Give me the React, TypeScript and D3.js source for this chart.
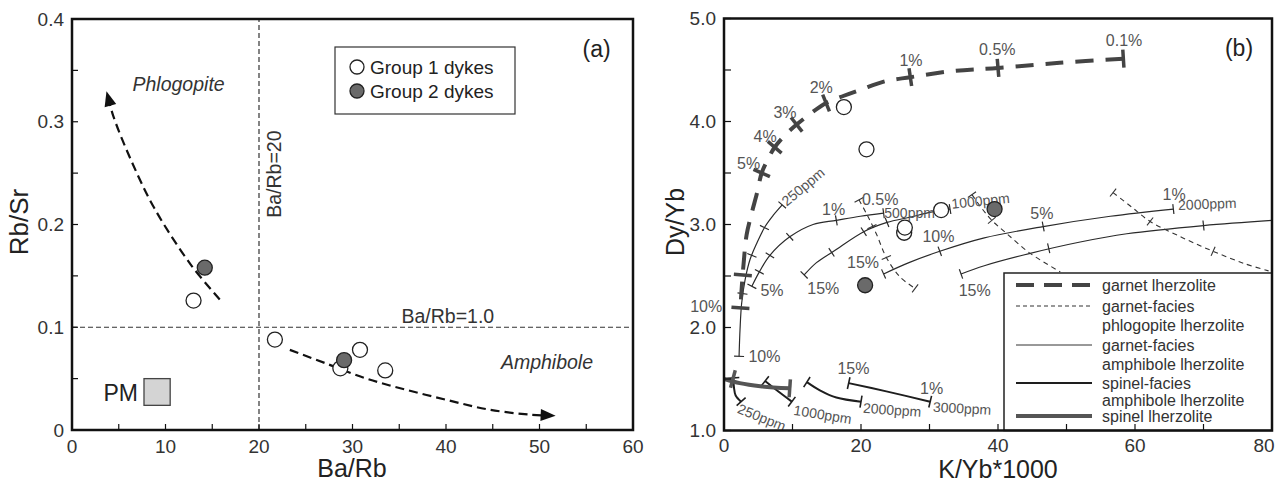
import React, { useEffect, useRef } from "react";
import * as d3 from "d3";

type P = [number, number];

// ---------- panel (a): Ba/Rb vs Rb/Sr ----------
const group1A: P[] = [[13.0, 0.126], [21.7, 0.088], [28.7, 0.06], [30.8, 0.078], [33.5, 0.058]];
const group2A: P[] = [[14.2, 0.158], [29.1, 0.068]];
const phlogArrow: P[] = [[15.8, 0.127], [12.7, 0.161], [8.8, 0.216], [6.2, 0.265], [4.4, 0.306], [3.8, 0.326]];
const amphArrow: P[] = [[23.3, 0.078], [27.1, 0.065], [31.5, 0.05], [35.8, 0.039], [40.2, 0.029], [44.5, 0.02], [48.9, 0.015], [51.3, 0.014]];
const pmBox: P[] = [[7.7, 0.024], [10.5, 0.05]];
const xTicksA = [0, 10, 20, 30, 40, 50, 60];
const yTicksA = [0, 0.1, 0.2, 0.3, 0.4];

// ---------- panel (b): K/Yb*1000 vs Dy/Yb ----------
const group1B: P[] = [[17.5, 4.14], [20.8, 3.73], [26.3, 2.92], [26.4, 2.97], [31.7, 3.14]];
const group2B: P[] = [[39.5, 3.15], [20.6, 2.41]];
const xTicksB = [0, 20, 40, 60, 80];
const yTicksB = [1, 2, 3, 4, 5];

// garnet lherzolite
const garnetLherz: P[] = [[58.3, 4.61], [49, 4.57], [40, 4.52], [33.4, 4.49], [27.2, 4.43], [23.5, 4.39], [20, 4.31], [17.5, 4.25], [14.9, 4.18], [12.5, 4.07], [10.6, 3.97], [8.8, 3.86], [7.4, 3.75], [6.3, 3.62], [5.5, 3.5], [4.8, 3.3], [4.0, 3.1], [3.3, 2.9], [2.9, 2.65], [2.6, 2.4], [2.4, 2.19]];
const garnetLherzTicks: P[] = [[58.3, 4.61], [40, 4.52], [27.2, 4.43], [14.9, 4.18], [10.6, 3.97], [7.4, 3.75], [5.5, 3.5], [2.75, 2.51], [2.4, 2.19]];

// garnet-facies amphibole lherzolite
const amph250: P[] = [[2.2, 1.72], [2.34, 1.98], [2.57, 2.23], [3.07, 2.46], [3.8, 2.66], [4.8, 2.82], [6.0, 2.98], [7.2, 3.09], [8.5, 3.19]];
const amph250Ticks: P[] = [[2.2, 1.72], [2.7, 2.33], [4.07, 2.7], [5.9, 2.97], [8.5, 3.19]];
const amph500: P[] = [[4.07, 2.4], [5.16, 2.54], [6.7, 2.7], [9.6, 2.88], [13.0, 3.0], [16.4, 3.04], [19.9, 3.08], [23.3, 3.11]];
const amph500Ticks: P[] = [[4.07, 2.4], [5.16, 2.54], [6.7, 2.7], [9.6, 2.88], [16.4, 3.04], [23.3, 3.11]];
const amph1000: P[] = [[11.7, 2.51], [13.5, 2.63], [16.0, 2.74], [20.4, 2.93], [23.8, 3.02], [27.1, 3.07], [30.2, 3.12], [33.0, 3.15]];
const amph1000Ticks: P[] = [[11.7, 2.51], [15.7, 2.73], [20.4, 2.93], [23.8, 3.02], [33.0, 3.15]];
const amph2000: P[] = [[23.3, 2.52], [27, 2.63], [31.5, 2.74], [38, 2.87], [46.6, 2.98], [56.4, 3.08], [65.6, 3.15]];
const amph2000Ticks: P[] = [[23.3, 2.52], [31.5, 2.74], [46.6, 2.98], [65.6, 3.15]];
const amph5000: P[] = [[34.6, 2.52], [38, 2.6], [44.7, 2.72], [52, 2.83], [58.8, 2.91], [70, 2.99], [80, 3.04]];
const amph5000Ticks: P[] = [[34.6, 2.52], [47.4, 2.77], [70, 2.99]];

// garnet-facies phlogopite lherzolite
const phlog1: P[] = [[19.7, 3.24], [21, 3.08], [22.3, 2.9], [23.7, 2.68], [25.7, 2.49], [27.9, 2.38]];
const phlog1Ticks: P[] = [[19.7, 3.24], [21.6, 2.98], [23.7, 2.68], [27.9, 2.38]];
const phlog2: P[] = [[36.2, 3.29], [37.6, 3.16], [39.1, 3.04], [41.3, 2.91], [44.7, 2.72], [49.1, 2.54]];
const phlog2Ticks: P[] = [[36.2, 3.29], [39.1, 3.04]];
const phlog3: P[] = [[56.8, 3.31], [59.5, 3.17], [62.2, 3.03], [67, 2.87], [71.4, 2.74], [76, 2.62], [79.5, 2.55]];
const phlog3Ticks: P[] = [[56.8, 3.31], [62.2, 3.03], [71.4, 2.74]];

// spinel-facies amphibole lherzolite
const spAmph250: P[] = [[1.36, 1.51], [1.45, 1.42], [1.7, 1.34], [2.5, 1.28]];
const spAmph1000: P[] = [[6.0, 1.48], [7.7, 1.39], [9.9, 1.28]];
const spAmph2000: P[] = [[12.1, 1.47], [14, 1.39], [16.4, 1.32], [20.0, 1.28]];
const spAmph3000: P[] = [[18.2, 1.46], [23.7, 1.38], [30.1, 1.28]];

// spinel lherzolite
const spinelLherz: P[] = [[0.1, 1.5], [2.3, 1.46], [5.3, 1.43], [9.6, 1.41]];
const spinelLherzTicks: P[] = [[1.3, 1.5], [9.6, 1.41]];

// labels: [x, y, text, rotation]
const pctLabels: [number, number, string, number][] = [
  [58.4, 4.79, "0.1%", 0], [39.9, 4.7, "0.5%", 0], [27.3, 4.59, "1%", 0], [14.2, 4.33, "2%", 0],
  [8.9, 4.09, "3%", 0], [6.0, 3.85, "4%", 0], [3.6, 3.59, "5%", 0], [-2.6, 2.2, "10%", 0],
  [16.0, 3.15, "1%", 0], [22.8, 3.24, "0.5%", 0], [7.0, 2.36, "5%", 0], [5.9, 1.72, "10%", 0],
  [14.5, 2.38, "15%", 0], [20.3, 2.63, "15%", 0], [31.3, 2.88, "10%", 0], [46.4, 3.11, "5%", 0],
  [65.7, 3.29, "1%", 0], [36.6, 2.36, "15%", 0], [18.9, 1.6, "15%", 0], [30.3, 1.41, "1%", 0],
];
const ppmLabels: [number, number, string, number][] = [
  [8.7, 3.21, "250ppm", -40], [23.4, 3.11, "500ppm", 0], [33.2, 3.2, "1000ppm", -6], [66.3, 3.19, "2000ppm", -2],
  [2.1, 1.22, "250ppm", 22], [10.2, 1.2, "1000ppm", 9], [20.3, 1.22, "2000ppm", 4], [30.5, 1.23, "3000ppm", 3],
];

const FONT = "'Liberation Sans', Arial, Helvetica, sans-serif";

function tickSeg(pts: P[], p: P, a: number, b: number): [P, P] {
  let best = Infinity, tx = 1, ty = 0;
  for (let i = 0; i < pts.length - 1; i++) {
    const [x0, y0] = pts[i], [x1, y1] = pts[i + 1];
    const dx = x1 - x0, dy = y1 - y0;
    const l2 = dx * dx + dy * dy || 1;
    let t = ((p[0] - x0) * dx + (p[1] - y0) * dy) / l2;
    t = Math.max(0, Math.min(1, t));
    const d = Math.hypot(p[0] - (x0 + t * dx), p[1] - (y0 + t * dy));
    if (d < best) { best = d; const l = Math.sqrt(l2); tx = dx / l; ty = dy / l; }
  }
  const nx = -ty, ny = tx;
  return [[p[0] - nx * a, p[1] - ny * a], [p[0] + nx * b, p[1] + ny * b]];
}

const App: React.FC = () => {
  const svgRef = useRef<SVGSVGElement | null>(null);

  useEffect(() => {
    const svg = d3.select(svgRef.current);
    svg.selectAll("*").remove();
    svg.style("font-family", FONT);

    // ================= panel (a) =================
    const xa = d3.scaleLinear().domain([0, 60]).range([72, 633]);
    const ya = d3.scaleLinear().domain([0, 0.4]).range([430, 19]);
    const ga = svg.append("g");

    // reference lines
    ga.append("line").attr("x1", xa(20)).attr("x2", xa(20)).attr("y1", ya(0)).attr("y2", ya(0.4))
      .attr("stroke", "#333").attr("stroke-width", 1.2).attr("stroke-dasharray", "5,3");
    ga.append("line").attr("x1", xa(0)).attr("x2", xa(60)).attr("y1", ya(0.1)).attr("y2", ya(0.1))
      .attr("stroke", "#333").attr("stroke-width", 1.2).attr("stroke-dasharray", "5,3");

    // arrows
    const lineA = d3.line<P>().x(d => xa(d[0])).y(d => ya(d[1])).curve(d3.curveCatmullRom);
    [phlogArrow, amphArrow].forEach(arr => {
      ga.append("path").attr("d", lineA(arr)!)
        .attr("fill", "none").attr("stroke", "#111").attr("stroke-width", 2.2).attr("stroke-dasharray", "9,5");
      const tip = arr[arr.length - 1], prev = arr[arr.length - 2];
      const ang = Math.atan2(ya(tip[1]) - ya(prev[1]), xa(tip[0]) - xa(prev[0])) * 180 / Math.PI;
      ga.append("path").attr("d", "M4,0 L-11,-6 L-11,6 Z").attr("fill", "#111")
        .attr("transform", `translate(${xa(tip[0])},${ya(tip[1])}) rotate(${ang})`);
    });

    // PM box
    ga.append("rect").attr("x", xa(pmBox[0][0])).attr("y", ya(pmBox[1][1]))
      .attr("width", xa(pmBox[1][0]) - xa(pmBox[0][0])).attr("height", ya(pmBox[0][1]) - ya(pmBox[1][1]))
      .attr("fill", "#d4d4d4").attr("stroke", "#444").attr("stroke-width", 1.3);
    ga.append("text").attr("x", xa(pmBox[0][0]) - 6).attr("y", ya(0.036)).attr("dominant-baseline", "central")
      .attr("text-anchor", "end").attr("font-size", 23).attr("fill", "#222").text("PM");

    // points
    ga.selectAll(".g1").data(group1A).enter().append("circle")
      .attr("cx", d => xa(d[0])).attr("cy", d => ya(d[1])).attr("r", 7.5)
      .attr("fill", "#fff").attr("stroke", "#222").attr("stroke-width", 1.3);
    ga.selectAll(".g2").data(group2A).enter().append("circle")
      .attr("cx", d => xa(d[0])).attr("cy", d => ya(d[1])).attr("r", 7.5)
      .attr("fill", "#6a6a6a").attr("stroke", "#222").attr("stroke-width", 1.3);

    // annotations
    ga.append("text").attr("x", xa(11.4)).attr("y", ya(0.337)).attr("text-anchor", "middle")
      .attr("dominant-baseline", "central").attr("font-style", "italic").attr("font-size", 19.5).attr("fill", "#333").text("Phlogopite");
    ga.append("text").attr("x", xa(50.8)).attr("y", ya(0.066)).attr("text-anchor", "middle")
      .attr("dominant-baseline", "central").attr("font-style", "italic").attr("font-size", 19.5).attr("fill", "#333").text("Amphibole");
    ga.append("text").attr("transform", `translate(${xa(21.6)},${ya(0.249)}) rotate(-90)`).attr("text-anchor", "middle")
      .attr("dominant-baseline", "central").attr("font-size", 19.5).attr("fill", "#333").text("Ba/Rb=20");
    ga.append("text").attr("x", xa(40.2)).attr("y", ya(0.111)).attr("text-anchor", "middle")
      .attr("dominant-baseline", "central").attr("font-size", 19.5).attr("fill", "#333").text("Ba/Rb=1.0");
    ga.append("text").attr("x", xa(56.1)).attr("y", ya(0.371)).attr("text-anchor", "middle")
      .attr("dominant-baseline", "central").attr("font-size", 23).attr("fill", "#222").text("(a)");

    // legend
    ga.append("rect").attr("x", 335).attr("y", 47).attr("width", 180).attr("height", 67)
      .attr("fill", "#fff").attr("stroke", "#333").attr("stroke-width", 1.2);
    [["Group 1 dykes", "#fff", 67], ["Group 2 dykes", "#6a6a6a", 91]].forEach(([t, c, y]) => {
      ga.append("circle").attr("cx", 357).attr("cy", y as number).attr("r", 7)
        .attr("fill", c as string).attr("stroke", "#222").attr("stroke-width", 1.3);
      ga.append("text").attr("x", 370).attr("y", y as number).attr("dominant-baseline", "central")
        .attr("font-size", 19).attr("fill", "#222").text(t as string);
    });

    // frame + ticks
    ga.append("rect").attr("x", 72).attr("y", 19).attr("width", 561).attr("height", 411)
      .attr("fill", "none").attr("stroke", "#111").attr("stroke-width", 2.5);
    d3.range(0, 60.1, 5).forEach(v => {
      ga.append("line").attr("x1", xa(v)).attr("x2", xa(v)).attr("y1", 430).attr("y2", 424)
        .attr("stroke", "#111").attr("stroke-width", 1.2);
    });
    d3.range(0, 0.401, 0.05).forEach(v => {
      ga.append("line").attr("x1", 72).attr("x2", 78).attr("y1", ya(v)).attr("y2", ya(v))
        .attr("stroke", "#111").attr("stroke-width", 1.2);
    });
    xTicksA.forEach(v => {
      ga.append("text").attr("x", xa(v)).attr("y", 446).attr("text-anchor", "middle").attr("dominant-baseline", "central")
        .attr("font-size", 19).attr("fill", "#333").text(String(v));
    });
    yTicksA.forEach(v => {
      ga.append("text").attr("x", 64).attr("y", ya(v)).attr("text-anchor", "end").attr("dominant-baseline", "central")
        .attr("font-size", 19).attr("fill", "#333").text(v === 0 ? "0" : v.toFixed(1));
    });
    ga.append("text").attr("x", 352).attr("y", 468).attr("text-anchor", "middle").attr("dominant-baseline", "central")
      .attr("font-size", 25).attr("fill", "#222").text("Ba/Rb");
    ga.append("text").attr("transform", `translate(19,222) rotate(-90)`).attr("text-anchor", "middle")
      .attr("dominant-baseline", "central").attr("font-size", 26).attr("fill", "#222").text("Rb/Sr");

    // ================= panel (b) =================
    const xb = d3.scaleLinear().domain([0, 80]).range([724, 1272]);
    const yb = d3.scaleLinear().domain([1, 5]).range([430.5, 18.5]);
    const gb = svg.append("g");
    const px = (d: P): P => [xb(d[0]), yb(d[1])];
    const lineB = d3.line<P>().x(d => xb(d[0])).y(d => yb(d[1])).curve(d3.curveCatmullRom);

    const clip = svg.append("clipPath").attr("id", "clipb");
    clip.append("rect").attr("x", 724).attr("y", 18.5).attr("width", 548).attr("height", 412);
    const gc = gb.append("g").attr("clip-path", "url(#clipb)");

    const drawCurve = (pts: P[], ticks: P[], stroke: string, sw: number, dash: string | null,
      tw: number, ta: number, tb: number) => {
      gc.append("path").attr("d", lineB(pts)!).attr("fill", "none").attr("stroke", stroke)
        .attr("stroke-width", sw).attr("stroke-dasharray", dash);
      const ppx = pts.map(px);
      ticks.forEach(t => {
        const [a, b] = tickSeg(ppx, px(t), ta, tb);
        gc.append("line").attr("x1", a[0]).attr("y1", a[1]).attr("x2", b[0]).attr("y2", b[1])
          .attr("stroke", stroke).attr("stroke-width", tw);
      });
    };

    [amph250, amph500, amph1000, amph2000, amph5000].forEach((c, i) => {
      const tk = [amph250Ticks, amph500Ticks, amph1000Ticks, amph2000Ticks, amph5000Ticks][i];
      drawCurve(c, tk, "#2a2a2a", 1.2, null, 1.2, 5, 5);
    });
    [phlog1, phlog2, phlog3].forEach((c, i) => {
      const tk = [phlog1Ticks, phlog2Ticks, phlog3Ticks][i];
      drawCurve(c, tk, "#333", 1.1, "5,4", 1.1, 5, 5);
    });
    [spAmph250, spAmph1000, spAmph2000, spAmph3000].forEach(c => {
      drawCurve(c, [c[0], c[c.length - 1]], "#1e1e1e", 2, null, 1.6, 6, 6);
    });
    drawCurve(spinelLherz, spinelLherzTicks, "#555", 4, null, 3.5, 9, 9);
    drawCurve(garnetLherz, garnetLherzTicks, "#444", 4, "18,12", 3.5, 9, 9);

    // labels on curves
    pctLabels.forEach(([x, y, t, r]) => {
      gb.append("text").attr("transform", `translate(${xb(x)},${yb(y)}) rotate(${r})`).attr("text-anchor", "middle")
        .attr("dominant-baseline", "central").attr("font-size", 16).attr("fill", "#555").text(t);
    });
    ppmLabels.forEach(([x, y, t, r]) => {
      gb.append("text").attr("transform", `translate(${xb(x)},${yb(y)}) rotate(${r})`).attr("text-anchor", "start")
        .attr("dominant-baseline", "central").attr("font-size", 14).attr("fill", "#555").text(t);
    });

    // points
    gb.selectAll(".g1").data(group1B).enter().append("circle")
      .attr("cx", d => xb(d[0])).attr("cy", d => yb(d[1])).attr("r", 7.5)
      .attr("fill", "#fff").attr("stroke", "#222").attr("stroke-width", 1.3);
    gb.selectAll(".g2").data(group2B).enter().append("circle")
      .attr("cx", d => xb(d[0])).attr("cy", d => yb(d[1])).attr("r", 7.5)
      .attr("fill", "#6a6a6a").attr("stroke", "#222").attr("stroke-width", 1.3);

    // legend
    gb.append("rect").attr("x", 1004).attr("y", 273).attr("width", 268).attr("height", 157.5)
      .attr("fill", "#fff").attr("stroke", "#222").attr("stroke-width", 1.5);
    const legRows: [number, string, number, string | null, string][] = [
      [285, "garnet lherzolite", 4, "18,10", "#444"],
      [306, "garnet-facies", 1.1, "4,3", "#333"],
      [345, "garnet-facies", 1, null, "#333"],
      [383, "spinel-facies", 2, null, "#1e1e1e"],
      [416, "spinel lherzolite", 4, null, "#555"],
    ];
    legRows.forEach(([ly, t, w, dash, col]) => {
      gb.append("line").attr("x1", 1016).attr("x2", 1092).attr("y1", ly).attr("y2", ly)
        .attr("stroke", col).attr("stroke-width", w).attr("stroke-dasharray", dash);
      gb.append("text").attr("x", 1102).attr("y", ly).attr("dominant-baseline", "central")
        .attr("font-size", 16).attr("fill", "#333").text(t);
    });
    [[325, "phlogopite lherzolite"], [364, "amphibole lherzolite"], [400, "amphibole lherzolite"]].forEach(([y, t]) => {
      gb.append("text").attr("x", 1102).attr("y", y as number).attr("dominant-baseline", "central")
        .attr("font-size", 16).attr("fill", "#333").text(t as string);
    });

    gb.append("text").attr("x", 1239).attr("y", 48).attr("text-anchor", "middle").attr("dominant-baseline", "central")
      .attr("font-size", 23).attr("fill", "#222").text("(b)");

    // frame + ticks
    gb.append("rect").attr("x", 724).attr("y", 18.5).attr("width", 548).attr("height", 412)
      .attr("fill", "none").attr("stroke", "#111").attr("stroke-width", 2.5);
    d3.range(0, 80.1, 10).forEach(v => {
      gb.append("line").attr("x1", xb(v)).attr("x2", xb(v)).attr("y1", 430.5).attr("y2", 424)
        .attr("stroke", "#111").attr("stroke-width", 1.2);
    });
    d3.range(1, 5.01, 0.5).forEach(v => {
      gb.append("line").attr("x1", 724).attr("x2", 731).attr("y1", yb(v)).attr("y2", yb(v))
        .attr("stroke", "#111").attr("stroke-width", 1.2);
    });
    xTicksB.forEach(v => {
      gb.append("text").attr("x", v === 80 ? 1264 : xb(v)).attr("y", 445).attr("text-anchor", "middle").attr("dominant-baseline", "central")
        .attr("font-size", 19).attr("fill", "#333").text(String(v));
    });
    yTicksB.forEach(v => {
      gb.append("text").attr("x", 716).attr("y", yb(v)).attr("text-anchor", "end").attr("dominant-baseline", "central")
        .attr("font-size", 19).attr("fill", "#333").text(v.toFixed(1));
    });
    gb.append("text").attr("x", 998).attr("y", 469).attr("text-anchor", "middle").attr("dominant-baseline", "central")
      .attr("font-size", 25).attr("fill", "#222").text("K/Yb*1000");
    gb.append("text").attr("transform", `translate(675,222) rotate(-90)`).attr("text-anchor", "middle")
      .attr("dominant-baseline", "central").attr("font-size", 25).attr("fill", "#222").text("Dy/Yb");
  }, []);

  return (
    <svg ref={svgRef} width={1276} height={484}
      style={{ position: "absolute", left: 0, top: 0, background: "#fff" }} />
  );
};

export default App;
